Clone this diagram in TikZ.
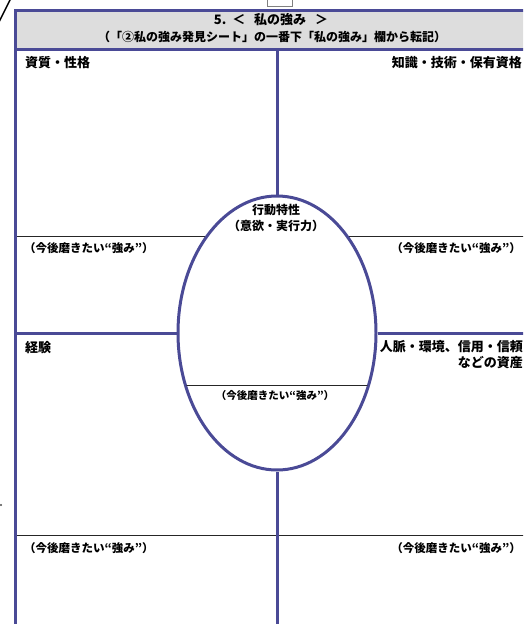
\documentclass[tikz,border=0pt]{standalone}
\usepackage{fontspec}
\setmainfont{Noto Sans CJK JP}
\usetikzlibrary{shapes.geometric}
\definecolor{frameblue}{RGB}{74,74,150}
\definecolor{headgray}{RGB}{221,221,221}
\begin{document}
\begin{tikzpicture}[x=1pt,y=-1pt,
  bigline/.style={draw=frameblue, line width=3pt},
  thinline/.style={draw=black!85, line width=0.9pt},
  headtext/.style={inner sep=0pt, font=\fontsize{12}{14}\selectfont\bfseries},
  fieldtext/.style={inner sep=0pt, font=\fontsize{13}{16}\selectfont\bfseries},
  wishtext/.style={inner sep=0pt, font=\fontsize{11.5}{13}\selectfont\bfseries}]
\useasboundingbox (0,0) rectangle (523,624);
\clip (0,0) rectangle (523,624);
% header
\fill[headgray] (15.5,10.5) rectangle (530,49);
\node[headtext, font=\fontsize{13}{15}\selectfont\bfseries] (title) at (271,20) {5.\ \ ＜\ \ \ 私の強み\ \ \ ＞};
\node[headtext] (subtitle) at (272,37) {（「②私の強み発見シート」の一番下「私の強み」欄から転記）};
% thin lines behind the oval
\draw[thinline] (15.5,236) -- (530,236);
\draw[thinline] (15.5,535) -- (530,535);
% centre oval
\node[ellipse, bigline, fill=white, minimum width=198pt, minimum height=274pt, inner sep=0pt] (oval) at (277,333) {};
\begin{scope}
  \clip (277,333) ellipse (98pt and 136pt);
  \draw[thinline] (150,385) -- (400,385);
\end{scope}
\node[fieldtext, align=center, font=\fontsize{12}{16}\selectfont\bfseries] (action) at (276,218) {行動特性\\（意欲・実行力）};
\node[wishtext, font=\fontsize{10.5}{12}\selectfont\bfseries] (wishmid) at (275,395) {（今後磨きたい“強み”）};
% frame and cross
\draw[bigline] (530,49) -- (15.5,49);
\draw[bigline] (15.5,640) -- (15.5,10.5) -- (530,10.5);
\draw[bigline] (oval.north) -- (oval.north |- 49,49);
\draw[bigline] (oval.south) -- (277,640);
\draw[bigline] (oval.west) -- (15.5,333);
\draw[bigline] (oval.east) -- (530,333);
% field labels
\node[fieldtext, anchor=west] (quality) at (25,63) {資質・性格};
\node[fieldtext, anchor=east] (skill) at (522,63) {知識・技術・保有資格};
\node[fieldtext, anchor=west] (career) at (25,348) {経験};
\node[fieldtext, anchor=north east, align=right] (network) at (523,340) {人脈・環境、信用・信頼\\などの資産};
\node[wishtext, anchor=west] (wishtl) at (24,248) {（今後磨きたい“強み”）};
\node[wishtext, anchor=east] (wishtr) at (521,248) {（今後磨きたい“強み”）};
\node[wishtext, anchor=west] (wishbl) at (24,548) {（今後磨きたい“強み”）};
\node[wishtext, anchor=east] (wishbr) at (521,548) {（今後磨きたい“強み”）};
% bits of the neighbouring sheet
\draw[black, line width=1.5pt] (-2,24) -- (11,-2);
\draw[gray, fill=white, line width=0.8pt] (267,-3) rectangle (292,6);
\fill[black!70] (1,505) circle (1.2);
\end{tikzpicture}
\end{document}
